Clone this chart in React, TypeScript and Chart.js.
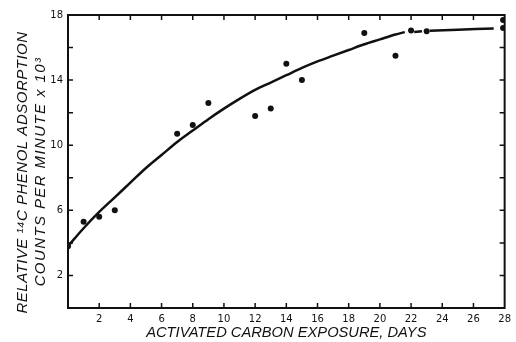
import React, { useEffect, useRef } from "react";
import { Chart, registerables } from "chart.js";

Chart.register(...registerables);

// Observed data points
const obsDays = [0, 1, 2, 3, 7, 8, 9, 12, 13, 14, 15, 19, 21, 22, 23, 27.9, 27.9];
const obsCounts = [3.8, 5.3, 5.6, 6.0, 10.7, 11.25, 12.6, 11.8, 12.25, 15.0, 14.0, 16.9, 15.5, 17.05, 17.0, 17.7, 17.2];

// Fitted curve (main part)
const fitDays = [0, 1, 2, 3, 4, 5, 6, 7, 8, 9, 10, 11, 12, 13, 14, 15, 16, 17, 18, 19, 20, 21, 21.6];
const fitCounts = [3.8, 4.9, 5.9, 6.8, 7.7, 8.6, 9.4, 10.2, 10.9, 11.6, 12.25, 12.85, 13.4, 13.85, 14.3, 14.75, 15.15, 15.5, 15.85, 16.2, 16.5, 16.8, 16.95];
// short dash between day 22 and 23
const dashDays = [22.2, 22.7];
const dashCounts = [16.95, 17.0];
// plateau
const tailDays = [23.2, 25, 27.3];
const tailCounts = [17.03, 17.1, 17.17];

const xTicks = [0, 2, 4, 6, 8, 10, 12, 14, 16, 18, 20, 22, 24, 26, 28];
const yTicks = [0, 2, 4, 6, 8, 10, 12, 14, 16, 18];
const yLabelled = [2, 6, 10, 14, 18];

const xTitle = "ACTIVATED CARBON EXPOSURE, DAYS";
const yTitle1 = "RELATIVE \u00B9\u2074C PHENOL ADSORPTION";
const yTitle2 = "COUNTS PER MINUTE x 10\u00B3";

const pts = (xs: number[], ys: number[]) => xs.map((x, i) => ({ x, y: ys[i] }));

const framePlugin = {
  id: "frame",
  afterDraw(chart: any) {
    const { ctx, chartArea: a, scales } = chart;
    const xs = scales.x;
    const ys = scales.y;
    ctx.save();
    ctx.strokeStyle = "#111";
    ctx.lineWidth = 2;
    ctx.strokeRect(a.left, a.top, a.right - a.left, a.bottom - a.top);
    ctx.lineWidth = 1.5;
    const tl = 5;
    ctx.beginPath();
    xTicks.forEach((v) => {
      if (v === 0 || v === 28) return;
      const px = xs.getPixelForValue(v);
      ctx.moveTo(px, a.bottom);
      ctx.lineTo(px, a.bottom - tl);
      ctx.moveTo(px, a.top);
      ctx.lineTo(px, a.top + tl);
    });
    yTicks.forEach((v) => {
      if (v === 0 || v === 18) return;
      const py = ys.getPixelForValue(v);
      ctx.moveTo(a.left, py);
      ctx.lineTo(a.left + tl, py);
      ctx.moveTo(a.right, py);
      ctx.lineTo(a.right - tl, py);
    });
    ctx.stroke();

    ctx.fillStyle = "#111";
    ctx.textAlign = "center";
    ctx.textBaseline = "middle";
    ctx.font = "italic 14.7px 'Liberation Sans', Arial, sans-serif";
    ctx.letterSpacing = "0px";
    ctx.fillText(xTitle, (a.left + a.right) / 2, 333);

    ctx.save();
    ctx.font = "italic 15px 'Liberation Sans', Arial, sans-serif";
    ctx.letterSpacing = "0.5px";
    ctx.translate(23, 172.5);
    ctx.rotate(-Math.PI / 2);
    ctx.fillText(yTitle1, 0, 0);
    ctx.restore();
    ctx.save();
    ctx.font = "italic 15px 'Liberation Sans', Arial, sans-serif";
    ctx.letterSpacing = "1.4px";
    ctx.translate(41, 171.5);
    ctx.rotate(-Math.PI / 2);
    ctx.fillText(yTitle2, 0, 0);
    ctx.restore();
    ctx.restore();
  },
};

export default function App() {
  const ref = useRef<HTMLCanvasElement | null>(null);
  useEffect(() => {
    if (!ref.current) return;
    const tickFont = { family: "'DejaVu Sans', sans-serif", size: 10 };
    const chart = new Chart(ref.current, {
      type: "scatter",
      data: {
        datasets: [
          {
            data: pts(fitDays, fitCounts),
            showLine: true,
            borderColor: "#111",
            borderWidth: 2.5,
            pointRadius: 0,
            tension: 0.3,
            cubicInterpolationMode: "monotone",
          },
          {
            data: pts(dashDays, dashCounts),
            showLine: true,
            borderColor: "#111",
            borderWidth: 2.5,
            pointRadius: 0,
          },
          {
            data: pts(tailDays, tailCounts),
            showLine: true,
            borderColor: "#111",
            borderWidth: 2.5,
            pointRadius: 0,
            tension: 0.3,
          },
          {
            data: pts(obsDays, obsCounts),
            showLine: false,
            backgroundColor: "#111",
            borderColor: "#111",
            pointRadius: 3,
            pointBorderWidth: 0,
          },
        ],
      } as any,
      plugins: [framePlugin],
      options: {
        responsive: false,
        animation: false,
        layout: { padding: { top: 15, right: 9, left: 0, bottom: 0 } },
        plugins: { legend: { display: false }, tooltip: { enabled: false } },
        scales: {
          x: {
            type: "linear",
            min: 0,
            max: 28,
            afterFit: (s: any) => {
              s.height = 34;
            },
            afterBuildTicks: (s: any) => {
              s.ticks = xTicks.map((v) => ({ value: v }));
            },
            grid: { display: false, drawTicks: false },
            border: { display: false },
            ticks: {
              padding: 5,
              color: "#111",
              font: tickFont,
              maxRotation: 0,
              autoSkip: false,
              callback: (v: any) => (v === 0 ? "" : String(v)),
            },
          },
          y: {
            type: "linear",
            min: 0,
            max: 18,
            afterFit: (s: any) => {
              s.width = 68;
            },
            afterBuildTicks: (s: any) => {
              s.ticks = yTicks.map((v) => ({ value: v }));
            },
            grid: { display: false, drawTicks: false },
            border: { display: false },
            ticks: {
              padding: 5,
              color: "#111",
              font: tickFont,
              autoSkip: false,
              callback: (v: any) => (yLabelled.includes(v) ? String(v) : ""),
            },
          },
        },
      } as any,
    });
    return () => chart.destroy();
  }, []);
  return (
    <div style={{ position: "fixed", left: 0, top: 0, width: 516, height: 342, background: "#fff" }}>
      <canvas ref={ref} width={516} height={342} style={{ width: 516, height: 342 }} />
    </div>
  );
}
